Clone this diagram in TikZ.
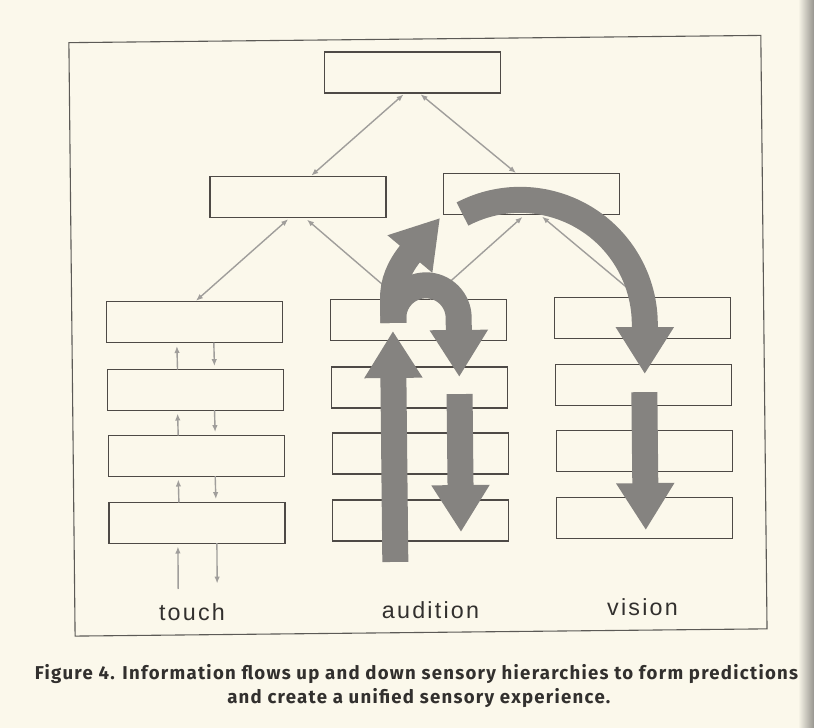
\documentclass[tikz,border=0pt]{standalone}
\usepackage{fontspec}
\setmainfont{Liberation Sans}
\newfontfamily\captionfont{Fira Sans}
\usetikzlibrary{arrows.meta,calc}

\definecolor{paper}{RGB}{251,248,235}
\definecolor{paperedge}{RGB}{150,148,142}
\definecolor{ink}{RGB}{50,48,46}
\definecolor{boxline}{RGB}{78,74,70}
\definecolor{framecol}{RGB}{92,90,86}
\definecolor{thinarrow}{RGB}{160,158,155}
\definecolor{bigarrow}{RGB}{133,131,128}

\begin{document}
\begin{tikzpicture}[x=1pt,y=-1pt,
  box/.style={draw=boxline, line width=1.2pt, minimum width=176pt,
    minimum height=41pt, inner sep=0pt, outer sep=0pt},
  upward/.style={draw=thinarrow, line width=1.4pt, -{Latex[length=7pt,width=5.5pt]},
    shorten >=3pt},
  twoway/.style={draw=thinarrow, line width=1.4pt,
    {Latex[length=7pt,width=5.5pt]}-{Latex[length=7pt,width=5.5pt]},
    shorten >=1.5pt, shorten <=2pt},
  flow/.style={draw=bigarrow, line width=26pt,
    -{Triangle[width=55pt,length=47pt]}},
  sense/.style={font=\fontsize{23.3}{28}\selectfont\addfontfeature{LetterSpace=9.5},
    text=ink, anchor=base, inner sep=0pt},
  captext/.style={font=\captionfont\bfseries\fontsize{18.6}{22}\selectfont
    \addfontfeature{LetterSpace=6.8}, text=ink, anchor=base, inner sep=0pt},
]
% page, with the shadow of the binding along the right edge
\fill[paper] (0,0) rectangle (814,728);
\shade[left color=paper, right color=paperedge] (798,0) rectangle (814,728);
\useasboundingbox (0,0) rectangle (814,728);

\begin{scope}[rotate around={0.6:(418,340)}]
  % outer frame
  \draw[framecol, line width=1.1pt] (72,39) rectangle (764,632.5);

  % upper levels of the hierarchy
  \node[box] (top)  at (415.5,72.5) {};
  \node[box] (midL) at (299.5,196)  {};
  \node[box] (midR) at (533,195.5)  {};

  % three sensory columns, four levels each
  \foreach \col/\x in {t/195, a/419, v/643}{
    \foreach \row/\y in {1/320, 2/387.5, 3/453.5, 4/520.5}{
      \node[box] (\col\row) at (\x,\y) {};
    }
  }

  % thin connectors between levels
  \draw[twoway] ([xshift=-7.7pt]top.south) -- ([xshift=12.2pt]midL.north);
  \draw[twoway] ([xshift=6.3pt]top.south) -- ([xshift=-14.3pt]midR.north);
  \draw[twoway] ([xshift=-8.3pt]midL.south) -- (t1.north);
  \draw[upward] ([xshift=-18.6pt]a1.north) -- ([xshift=6.7pt]midL.south);
  \draw[upward] ([xshift=11.4pt]a1.north) -- ([xshift=-6.7pt]midR.south);
  \draw[upward] ([xshift=-4.3pt]v1.north) -- ([xshift=8.3pt]midR.south);

  % touch: up and down between neighbouring levels
  \foreach \lo/\hi in {t2/t1, t3/t2, t4/t3}{
    \draw[upward] ([xshift=-18pt]\lo.north) -- ([xshift=-18pt]\hi.south);
    \draw[upward] ([xshift=19pt]\hi.south) -- ([xshift=19pt]\lo.north);
  }
  \coordinate (tin)  at (175.6,586.5);
  \coordinate (tout) at (214.6,584.5);
  \draw[upward] (tin) -- ([xshift=-19pt]t4.south);
  \draw[upward] ([xshift=20pt]t4.south) -- (tout);

  % broad flows: audition
  \draw[flow] (393,561.7) -- (393,330.7);
  \draw[flow] (459,394.5) -- (459,532.5);
  \draw[flow] (393.5,322.7) -- (393.5,298)
     .. controls (393.5,282) and (400,267.5) .. (410.4,254.4) -- (441.3,218.2);
  \draw[flow] (393.5,322.7) -- (393.5,318.1)
     arc[start angle=180, end angle=360, radius=32.7] -- (458.9,377.4);

  % broad flows: vision
  \draw[flow] (463.8,214.5) arc[start angle=-117, end angle=0, radius=124.6]
     -- (644.4,376.4);
  \draw[flow] (643.8,394.5) -- (643.8,532.5);

  % column labels
  \node[sense] (touchlbl)    at (189,618.5)   {touch};
  \node[sense] (auditionlbl) at (427.6,618.5) {audition};
  \node[sense] (visionlbl)   at (639.6,617.5) {vision};

  % caption
  \node[captext] (cap1) at (413,679)
    {Figure 4. Information flows up and down sensory hierarchies to form predictions};
  \node[captext] (cap2) at (415,703)
    {and create a unified sensory experience.};
\end{scope}
\end{tikzpicture}
\end{document}
